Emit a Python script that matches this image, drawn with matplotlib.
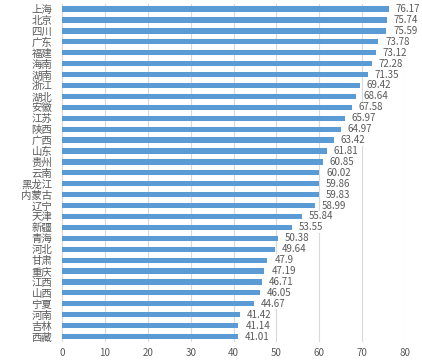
import matplotlib.pyplot as plt

plt.rcParams['font.family'] = ['Noto Sans CJK SC', 'DejaVu Sans']

provinces = ["上海", "北京", "四川", "广东", "福建", "海南", "湖南", "浙江", "湖北", "安徽",
             "江苏", "陕西", "广西", "山东", "贵州", "云南", "黑龙江", "内蒙古", "辽宁", "天津",
             "新疆", "青海", "河北", "甘肃", "重庆", "江西", "山西", "宁夏", "河南", "吉林", "西藏"]
values = [76.17, 75.74, 75.59, 73.78, 73.12, 72.28, 71.35, 69.42, 68.64, 67.58,
          65.97, 64.97, 63.42, 61.81, 60.85, 60.02, 59.86, 59.83, 58.99, 55.84,
          53.55, 50.38, 49.64, 47.9, 47.19, 46.71, 46.05, 44.67, 41.42, 41.14, 41.01]
value_labels = ["76.17", "75.74", "75.59", "73.78", "73.12", "72.28", "71.35", "69.42", "68.64", "67.58",
                "65.97", "64.97", "63.42", "61.81", "60.85", "60.02", "59.86", "59.83", "58.99", "55.84",
                "53.55", "50.38", "49.64", "47.9", "47.19", "46.71", "46.05", "44.67", "41.42", "41.14", "41.01"]

fig = plt.figure(figsize=(4.22, 3.6), dpi=100)
ax = fig.add_axes([0.147, 0.05, 0.813, 0.94])

y = list(range(len(provinces)))
ax.barh(y, values, height=0.48, color="#5B9BD5", zorder=2)
for yi, v, lab in zip(y, values, value_labels):
    ax.text(v + 1.6, yi, lab, va="center", ha="left", fontsize=7, color="#595959",
            bbox=dict(facecolor="white", edgecolor="none", pad=0.5), zorder=3)

ax.set_yticks(y)
ax.set_yticklabels(provinces, fontsize=7.5, color="#595959")
ax.set_ylim(len(provinces) - 0.5, -0.5)
ax.set_xlim(0, 80)
ax.set_xticks(range(0, 81, 10))
ax.tick_params(axis="x", labelsize=7, colors="#595959", length=0, pad=4)
ax.tick_params(axis="y", length=0, pad=7)
ax.grid(axis="x", color="#D9D9D9", linewidth=0.8, zorder=0)
ax.set_axisbelow(True)
for s in ax.spines.values():
    s.set_visible(False)

fig.savefig("out.png", dpi=100)
